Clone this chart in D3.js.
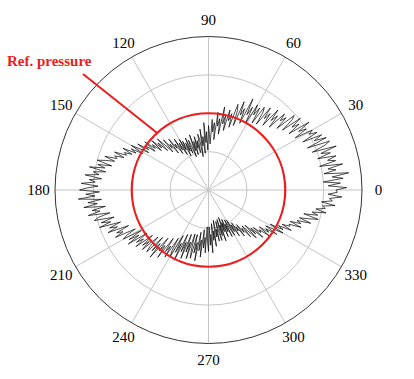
<!DOCTYPE html>
<html><head><meta charset="utf-8">
<script src="https://cdn.jsdelivr.net/npm/d3@7"></script>
<style>body{margin:0;background:#fff}svg{display:block}</style>
</head><body>
<script>
// Angle tick labels (degrees, counter-clockwise from east)
const angleTicks = [0,30,60,90,120,150,180,210,240,270,300,330];
// Radial grid rings (fraction of full radius)
const radialTicks = [0.25,0.5,0.75,1];
// Reference pressure level
const refPressure = 0.5;
const refLabel = "Ref. pressure";
// Measured pressure, one value per degree 0..359 (fraction of full radius)
const pressure = [
0.83,0.90,0.78,0.86,0.75,0.88,0.81,0.92,0.76,0.84,0.79,0.89,0.74,0.85,0.80,
0.86,0.74,0.83,0.77,0.88,0.72,0.81,0.85,0.70,0.84,0.76,0.82,0.69,0.80,0.75,
0.78,0.66,0.75,0.70,0.79,0.64,0.73,0.68,0.76,0.62,0.71,0.74,0.60,0.69,0.65,
0.70,0.57,0.66,0.61,0.69,0.55,0.64,0.59,0.67,0.53,0.62,0.65,0.52,0.63,0.57,
0.64,0.50,0.61,0.55,0.66,0.48,0.58,0.53,0.62,0.45,0.55,0.59,0.43,0.52,0.47,
0.54,0.40,0.50,0.44,0.55,0.37,0.47,0.42,0.51,0.33,0.44,0.38,0.46,0.30,0.36,
0.42,0.26,0.38,0.31,0.44,0.24,0.35,0.29,0.40,0.22,0.34,0.37,0.25,0.33,0.28,
0.36,0.24,0.33,0.27,0.38,0.23,0.31,0.35,0.26,0.37,0.28,0.34,0.25,0.36,0.30,
0.38,0.27,0.36,0.31,0.40,0.29,0.37,0.34,0.42,0.31,0.39,0.36,0.44,0.34,0.40,
0.47,0.37,0.45,0.41,0.49,0.40,0.47,0.44,0.52,0.43,0.50,0.47,0.55,0.46,0.52,
0.58,0.49,0.57,0.53,0.62,0.55,0.60,0.58,0.66,0.59,0.65,0.63,0.71,0.64,0.70,
0.75,0.65,0.74,0.69,0.79,0.68,0.76,0.72,0.81,0.70,0.78,0.74,0.83,0.72,0.79,
0.84,0.71,0.80,0.74,0.85,0.70,0.79,0.73,0.82,0.68,0.77,0.72,0.80,0.66,0.74,
0.77,0.64,0.73,0.67,0.75,0.61,0.69,0.64,0.71,0.57,0.66,0.62,0.68,0.54,0.61,
0.64,0.51,0.61,0.54,0.63,0.49,0.58,0.53,0.60,0.47,0.56,0.51,0.58,0.45,0.53,
0.57,0.43,0.54,0.47,0.58,0.41,0.51,0.46,0.55,0.39,0.49,0.44,0.52,0.37,0.46,
0.50,0.34,0.46,0.39,0.51,0.32,0.44,0.37,0.48,0.31,0.43,0.36,0.47,0.30,0.40,
0.46,0.30,0.42,0.35,0.47,0.28,0.40,0.33,0.44,0.26,0.38,0.31,0.41,0.24,0.34,
0.40,0.24,0.36,0.29,0.41,0.22,0.33,0.27,0.37,0.20,0.31,0.26,0.34,0.21,0.29,
0.34,0.20,0.31,0.24,0.35,0.19,0.29,0.23,0.33,0.21,0.30,0.25,0.34,0.22,0.29,
0.34,0.23,0.32,0.27,0.36,0.26,0.33,0.30,0.38,0.29,0.36,0.33,0.41,0.32,0.38,
0.44,0.33,0.42,0.37,0.47,0.38,0.44,0.42,0.50,0.41,0.48,0.45,0.53,0.44,0.50,
0.56,0.46,0.55,0.51,0.60,0.53,0.58,0.57,0.65,0.57,0.64,0.61,0.70,0.62,0.68,
0.74,0.64,0.73,0.69,0.78,0.71,0.77,0.75,0.83,0.74,0.81,0.79,0.87,0.78,0.84
];

const W = 414, H = 379;
const cx = 208.5, cy = 190, R = 153.5;
const red = "#ee1c1c";

const svg = d3.select("body").append("svg").attr("width", W).attr("height", H);
const g = svg.append("g").attr("transform", `translate(${cx},${cy})`);

const r = d3.scaleLinear().domain([0, 1]).range([0, R]);
const a = d3.scaleLinear().domain([0, 360]).range([0, 2 * Math.PI]);
const px = (deg, v) => r(v) * Math.cos(a(deg));
const py = (deg, v) => -r(v) * Math.sin(a(deg));

// inner grid rings
g.selectAll("circle.grid").data(radialTicks.slice(0, -1)).join("circle")
  .attr("class", "grid").attr("r", d => r(d))
  .attr("fill", "none").attr("stroke", "#c4c4c4").attr("stroke-width", 1);

// spokes
g.selectAll("line.spoke").data(angleTicks).join("line")
  .attr("class", "spoke")
  .attr("x1", 0).attr("y1", 0)
  .attr("x2", d => px(d, 1)).attr("y2", d => py(d, 1))
  .attr("stroke", "#c4c4c4").attr("stroke-width", 1);

// outer ring
g.append("circle").attr("r", r(1)).attr("fill", "none")
  .attr("stroke", "#333").attr("stroke-width", 1);

// angle labels
g.selectAll("text.ang").data(angleTicks).join("text")
  .attr("class", "ang")
  .attr("x", d => px(d, 1.107)).attr("y", d => py(d, 1.107))
  .attr("text-anchor", "middle").attr("dominant-baseline", "central")
  .attr("font-family", "'Liberation Serif', 'Times New Roman', serif")
  .attr("font-size", 15).attr("fill", "#000")
  .text(d => d);

// data line
const line = d3.lineRadial()
  .angle((d, i) => Math.PI / 2 - a(i))
  .radius(d => r(d))
  .curve(d3.curveLinearClosed);
g.append("path").datum(pressure)
  .attr("d", line).attr("fill", "none")
  .attr("stroke", "#000").attr("stroke-width", 0.7);

// reference circle
g.append("circle").attr("r", r(refPressure)).attr("fill", "none")
  .attr("stroke", red).attr("stroke-width", 2.2);

// annotation
const annAngle = 132;
svg.append("line")
  .attr("x1", 83).attr("y1", 74)
  .attr("x2", cx + px(annAngle, refPressure)).attr("y2", cy + py(annAngle, refPressure))
  .attr("stroke", red).attr("stroke-width", 2);
svg.append("text").attr("x", 7).attr("y", 66)
  .attr("font-family", "'Liberation Serif', 'Times New Roman', serif")
  .attr("font-weight", "bold").attr("font-size", 15).attr("fill", red)
  .text(refLabel);
</script>
</body></html>
